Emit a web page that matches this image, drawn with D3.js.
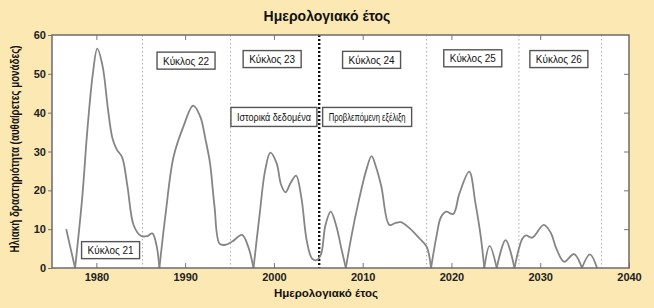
<!DOCTYPE html>
<html>
<head>
<meta charset="utf-8">
<script src="https://cdn.jsdelivr.net/npm/d3@7"></script>
<style>
  body { margin: 0; background: #fce8b2; }
  svg { display: block; font-family: "Liberation Sans", Arial, sans-serif; }
</style>
</head>
<body>
<div id="chart"></div>
<script>
// solar activity curve (year, arbitrary units)
const years = [
  1976.6, 1977.6, 1978.4, 1979.0, 1979.6, 1980.1, 1980.7, 1981.3, 1981.8, 1982.3, 1982.9, 1983.5, 1984.2, 1985.0, 1985.7, 1986.3, 1986.8, 1987.1,
  1987.8, 1988.7, 1989.8, 1990.9, 1991.7, 1992.3, 1992.8, 1993.3, 1993.9, 1994.6, 1995.3, 1996.4, 1997.1, 1997.7,
  1998.4, 1999.0, 1999.6, 2000.3, 2000.8, 2001.3, 2001.9, 2002.5, 2003.1, 2003.7, 2004.3, 2004.8, 2005.3, 2005.8, 2006.4, 2007.0, 2007.6, 2008.1,
  2008.8, 2009.5, 2010.4, 2011.0, 2011.5, 2012.1, 2013.0, 2013.7, 2014.3, 2015.3, 2016.4, 2017.2, 2017.7,
  2018.3, 2018.8, 2019.4, 2020.2, 2020.9, 2022.0, 2022.7, 2023.3, 2023.7,
  2024.3, 2025.1, 2026.1, 2027.1,
  2027.6, 2028.0, 2028.4, 2029.1, 2030.4, 2031.2, 2031.8, 2032.7, 2033.8, 2034.7, 2035.6, 2036.4
]
const activity = [
  10, 0, 18, 36, 50, 56.5, 52, 41, 33.5, 30.5, 28.5, 21, 11, 8.3, 8.2, 8.9, 5.5, 0,
  14, 28.7, 36.4, 41.8, 39, 33, 27, 16, 6.2, 6.0, 6.8, 8.5, 5.5, 0,
  14, 25, 29.7, 27, 21.5, 19.5, 22, 23.8, 18, 7, 2.4, 2.0, 3.5, 11, 14.5, 11, 5, 0,
  9, 16.7, 25.2, 28.8, 26, 21, 11.1, 11.6, 11.8, 10.2, 7.6, 5.5, 0,
  8, 13, 14.5, 13.9, 19.2, 24.8, 16.7, 8.1, 0,
  5.7, 0, 7.2, 0,
  5, 7.6, 8.4, 7.8, 11.1, 9, 5.1, 1.6, 3.6, 0, 3.5, 0
]

// cycle boundaries; 2005 splits historic data from the forecast
const boundaries = [1985.2, 1995.1, 2005.1, 2017.2, 2027.6, 2036.9]
const nowYear = 2005.1

const xTicks = [1980, 1990, 2000, 2010, 2020, 2030, 2040]
const yTicks = [0, 10, 20, 30, 40, 50, 60]

const cycleNames = ['Κύκλος 21', 'Κύκλος 22', 'Κύκλος 23', 'Κύκλος 24', 'Κύκλος 25', 'Κύκλος 26']
const cycleAt = [[1981.6, 4.6], [1990.1, 53.4], [1999.8, 53.8], [2011.0, 53.6], [2022.4, 54.0], [2032.1, 53.8]]

const width = 654, height = 308
const mLeft = 52, mRight = 629, mTop = 35, mBottom = 268

const x = d3.scaleLinear().domain([1975, 2040]).range([mLeft, mRight])
const y = d3.scaleLinear().domain([0, 60]).range([mBottom, mTop])

const svg = d3.select('#chart').append('svg')
  .attr('width', width)
  .attr('height', height)

svg.append('rect')
  .attr('width', width).attr('height', height)
  .attr('fill', '#fce8b2')

svg.append('rect')
  .attr('x', mLeft).attr('y', mTop)
  .attr('width', mRight - mLeft).attr('height', mBottom - mTop)
  .attr('fill', '#fff')

// cycle separators
svg.append('g')
  .selectAll('line')
  .data(boundaries)
  .enter()
  .append('line')
  .attr('x1', d => x(d)).attr('x2', d => x(d))
  .attr('y1', mTop).attr('y2', mBottom)
  .attr('stroke', d => d === nowYear ? '#111' : '#aaa')
  .attr('stroke-width', d => d === nowYear ? 2.4 : 1)
  .attr('stroke-dasharray', d => d === nowYear ? '2,2' : '1.5,2.5')

// split the curve into arches at its zeros so the minima stay sharp
let pts = years.map((yr, i) => [yr, activity[i]])
let arches = []
let cur = [pts[0]]
for (let i = 1; i < pts.length; i++) {
  cur.push(pts[i])
  if (pts[i][1] === 0 && i < pts.length - 1) {
    arches.push(cur)
    cur = [pts[i]]
  }
}
arches.push(cur)

const line = d3.line()
  .x(d => x(d[0]))
  .y(d => y(d[1]))
  .curve(d3.curveCatmullRom.alpha(0.5))

svg.append('g')
  .selectAll('path')
  .data(arches)
  .enter()
  .append('path')
  .attr('d', line)
  .attr('fill', 'none')
  .attr('stroke', '#858585')
  .attr('stroke-width', 1.8)
  .attr('stroke-linejoin', 'round')

// frame and axes
const axisFont = g => g.selectAll('text')
  .attr('font-size', 11).attr('font-weight', 'bold').attr('fill', '#222')

svg.append('g')
  .attr('transform', `translate(0,${mBottom})`)
  .call(d3.axisBottom(x).tickValues(xTicks).tickFormat(d3.format('d')).tickSizeInner(-5).tickSizeOuter(0).tickPadding(5))
  .call(axisFont)
  .call(g => g.select('.domain').remove())
  .call(g => g.selectAll('line').attr('stroke', '#777'))

svg.append('g')
  .attr('transform', `translate(0,${mTop})`)
  .call(d3.axisTop(x).tickValues(xTicks.slice(0, -1)).tickSizeInner(-5).tickSizeOuter(0).tickFormat(''))
  .call(g => g.select('.domain').remove())
  .call(g => g.selectAll('line').attr('stroke', '#777'))

svg.append('g')
  .attr('transform', `translate(${mLeft},0)`)
  .call(d3.axisLeft(y).tickValues(yTicks).tickSizeInner(4).tickSizeOuter(0).tickPadding(2))
  .call(axisFont)
  .call(g => g.select('.domain').remove())
  .call(g => g.selectAll('line').attr('stroke', '#777'))

svg.append('g')
  .attr('transform', `translate(${mRight},0)`)
  .call(d3.axisRight(y).tickValues(yTicks.slice(1, -1)).tickSizeInner(-5).tickSizeOuter(0).tickFormat(''))
  .call(g => g.select('.domain').remove())
  .call(g => g.selectAll('line').attr('stroke', '#777'))

svg.append('rect')
  .attr('x', mLeft).attr('y', mTop)
  .attr('width', mRight - mLeft).attr('height', mBottom - mTop)
  .attr('fill', 'none')
  .attr('stroke', '#6b6b6b')
  .attr('stroke-width', 1.5)

// titles
svg.append('text')
  .attr('x', 327).attr('y', 21)
  .attr('text-anchor', 'middle')
  .attr('font-size', 14).attr('font-weight', 'bold').attr('fill', '#111')
  .text('Ημερολογιακό έτος')

svg.append('text')
  .attr('x', 326).attr('y', 297)
  .attr('text-anchor', 'middle')
  .attr('font-size', 11.5).attr('font-weight', 'bold').attr('fill', '#111')
  .text('Ημερολογιακό έτος')

svg.append('text')
  .attr('transform', 'translate(19,149) rotate(-90)')
  .attr('text-anchor', 'middle')
  .attr('font-size', 12).attr('font-weight', 'bold').attr('fill', '#111')
  .attr('textLength', 207).attr('lengthAdjust', 'spacingAndGlyphs')
  .text('Ηλιακή δραστηριότητα (αυθαίρετες μονάδες)')

// labelled boxes
function box(label, cx, cy, w, h, fs) {
  let g = svg.append('g')
  g.append('rect')
    .attr('x', cx - w / 2).attr('y', cy - h / 2)
    .attr('width', w).attr('height', h)
    .attr('fill', '#fff')
    .attr('stroke', '#555')
    .attr('stroke-width', 1.4)
  g.append('text')
    .attr('x', cx).attr('y', cy + fs * 0.36)
    .attr('text-anchor', 'middle')
    .attr('font-size', fs).attr('fill', '#111')
    .attr('textLength', w - 12).attr('lengthAdjust', 'spacingAndGlyphs')
    .text(label)
}

cycleNames.forEach((name, i) => {
  box(name, x(cycleAt[i][0]), y(cycleAt[i][1]), 58, 17, 11)
})
box('Ιστορικά δεδομένα', x(2000.0), y(38.9), 86, 19, 11)
box('Προβλεπόμενη εξέλιξη', x(2010.5), y(38.9), 89, 19, 10)
</script>
</body>
</html>
